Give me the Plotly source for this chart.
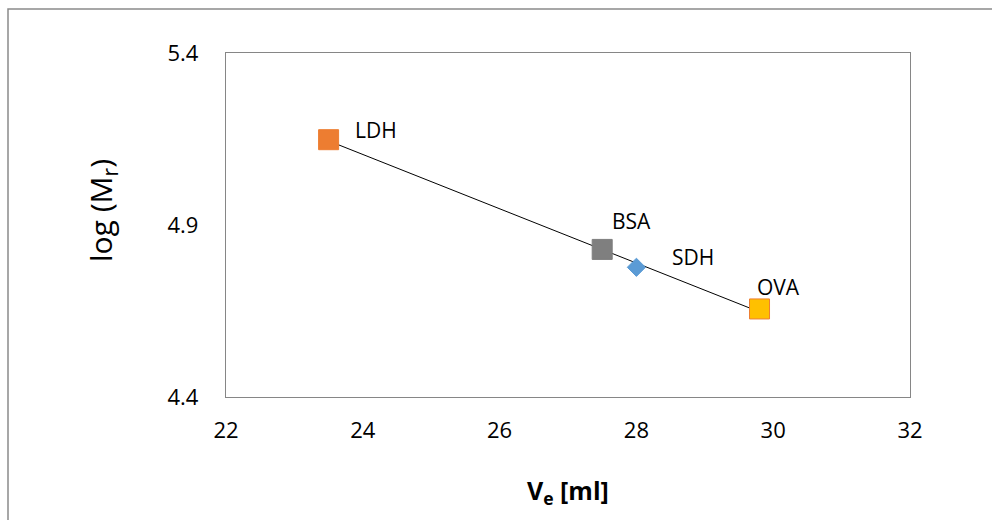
import numpy as np
import plotly.graph_objects as go

# Calibration proteins: elution volume vs. log molecular mass
proteins = ["LDH", "BSA", "SDH", "OVA"]
ve_ml = [23.5, 27.5, 28.0, 29.8]
log_mr = [5.148, 4.829, 4.777, 4.656]

marker_symbols = ["square", "square", "diamond", "square"]
marker_sizes = [20, 20, 14, 20]
marker_fills = ["#ED7D31", "#7F7F7F", "#5B9BD5", "#FFC000"]
marker_edges = ["#ED7D31", "#7F7F7F", "#5B9BD5", "#ED7D31"]

# label anchor points (data units), left-anchored
label_x = [23.86, 27.62, 28.49, 29.74]
label_y = [5.176, 4.912, 4.807, 4.72]

x_ticks = [22, 24, 26, 28, 30, 32]
y_ticks = [4.4, 4.9, 5.4]

FONT = "Open Sans, Liberation Sans, sans-serif"
W, H = 992, 520
L, R, T, B = 226, 82, 53, 123
pw, ph = W - L - R, H - T - B

fig = go.Figure()

# linear trendline through all calibration points
slope, intercept = np.polyfit(ve_ml, log_mr, 1)
xfit = np.array([min(ve_ml), max(ve_ml)])
fig.add_trace(go.Scatter(
    x=xfit, y=slope * xfit + intercept, mode="lines",
    line=dict(color="black", width=1), hoverinfo="skip", showlegend=False,
))

for i, name in enumerate(proteins):
    fig.add_trace(go.Scatter(
        x=[ve_ml[i]], y=[log_mr[i]], mode="markers", name=name,
        marker=dict(symbol=marker_symbols[i], size=marker_sizes[i],
                    color=marker_fills[i],
                    line=dict(color=marker_edges[i], width=1)),
        showlegend=False,
    ))
    fig.add_annotation(x=label_x[i], y=label_y[i], text=name, showarrow=False,
                       xanchor="left", yanchor="middle",
                       font=dict(family=FONT, size=21, color="black"))

# axis titles
fig.add_annotation(xref="paper", yref="paper", x=0.5, y=0, yshift=-74,
                   text="<b>V<sub>e</sub> [ml]</b>", showarrow=False,
                   xanchor="center", yanchor="top",
                   font=dict(family=FONT, size=25, color="black"))
fig.add_annotation(xref="paper", yref="paper", x=0, xshift=-124, y=0.5, yshift=14,
                   text="log (M<sub>r</sub>)", showarrow=False, textangle=-90,
                   xanchor="center", yanchor="middle",
                   font=dict(family=FONT, size=30, color="black"))

# outer chart frame
fig.add_shape(type="rect", xref="paper", yref="paper",
              x0=(8 - L) / pw, x1=(W + 10 - L) / pw,
              y0=(H - B - 9) / ph, y1=(H - B - (H + 10)) / ph,
              line=dict(color="#8a8a8a", width=1.5), layer="below")

fig.update_xaxes(range=[22, 32], tickvals=x_ticks, showgrid=False, zeroline=False,
                 showline=True, linecolor="#868686", linewidth=1.3, mirror=True,
                 ticks="", ticklabelstandoff=13,
                 tickfont=dict(family=FONT, size=22, color="black"))
fig.update_yaxes(range=[4.4, 5.4], tickvals=y_ticks, tickformat=".1f",
                 showgrid=False, zeroline=False,
                 showline=True, linecolor="#868686", linewidth=1.3, mirror=True,
                 ticks="", ticklabelstandoff=22,
                 tickfont=dict(family=FONT, size=22, color="black"))

fig.update_layout(
    width=W, height=H,
    margin=dict(l=L, r=R, t=T, b=B),
    paper_bgcolor="white", plot_bgcolor="white",
    font=dict(family=FONT),
)

fig.write_html("out.html")
